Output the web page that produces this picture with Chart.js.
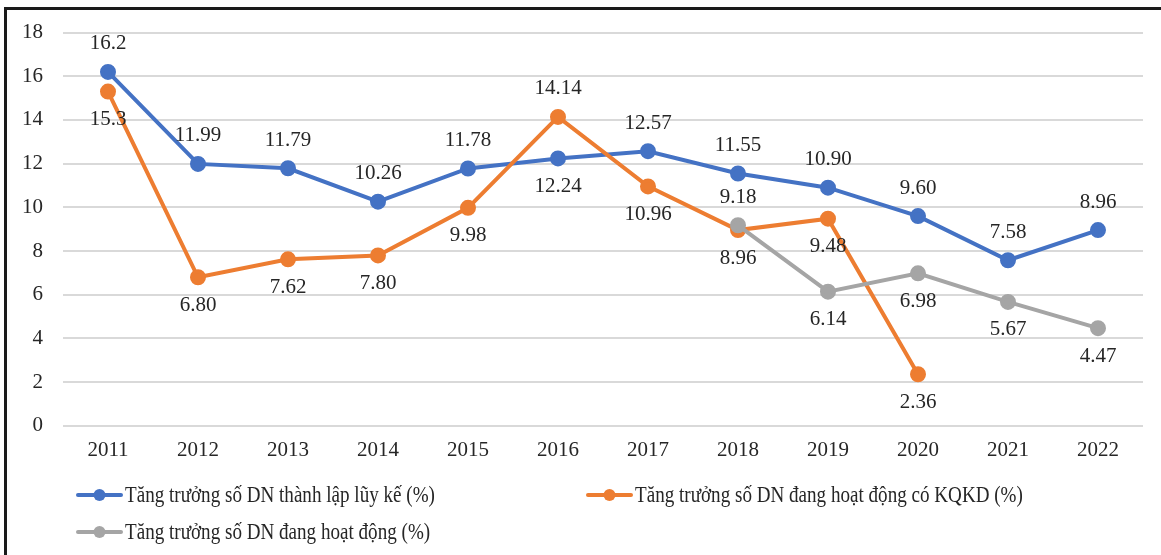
<!DOCTYPE html>
<html>
<head>
<meta charset="utf-8">
<script src="https://cdn.jsdelivr.net/npm/chart.js@4.4.1/dist/chart.umd.min.js"></script>
<style>
  html, body { margin: 0; padding: 0; background: #fff; }
  #wrap { position: relative; width: 1161px; height: 555px; overflow: hidden; }
  #frame { position: absolute; left: 4px; top: 7px; width: 1200px; height: 600px;
           border-left: 3px solid #1a1a1a; border-top: 3px solid #1a1a1a; }
  canvas { position: absolute; left: 0; top: 0; }
</style>
</head>
<body>
<div id="wrap">
  <div id="frame"></div>
  <canvas id="chart" width="1161" height="555"></canvas>
</div>
<script>
const years = ['2011', '2012', '2013', '2014', '2015', '2016', '2017', '2018', '2019', '2020', '2021', '2022'];
const thanhLap = [16.2, 11.99, 11.79, 10.26, 11.78, 12.24, 12.57, 11.55, 10.90, 9.60, 7.58, 8.96];
const coKqkd = [15.3, 6.80, 7.62, 7.80, 9.98, 14.14, 10.96, 8.96, 9.48, 2.36, null, null];
const hoatDong = [null, null, null, null, null, null, null, 9.18, 6.14, 6.98, 5.67, 4.47];
const yTicks = [0, 2, 4, 6, 8, 10, 12, 14, 16, 18];

// label text as printed (some keep 1 decimal, most keep 2)
const thanhLapText = ['16.2', '11.99', '11.79', '10.26', '11.78', '12.24', '12.57', '11.55', '10.90', '9.60', '7.58', '8.96'];
const coKqkdText = ['15.3', '6.80', '7.62', '7.80', '9.98', '14.14', '10.96', '8.96', '9.48', '2.36', '', ''];
const hoatDongText = ['', '', '', '', '', '', '', '9.18', '6.14', '6.98', '5.67', '4.47'];

// -1 = above the point, 1 = below
const thanhLapPos = [-1, -1, -1, -1, -1, 1, -1, -1, -1, -1, -1, -1];
const coKqkdPos = [1, 1, 1, 1, 1, -1, 1, 1, 1, 1, 1, 1];
const hoatDongPos = [1, 1, 1, 1, 1, 1, 1, -1, 1, 1, 1, 1];

const seriesNames = [
    'Tăng trưởng số DN thành lập lũy kế (%)',
    'Tăng trưởng số DN đang hoạt động có KQKD (%)',
    'Tăng trưởng số DN đang hoạt động (%)'
];
const colors = ['#4472C4', '#ED7D31', '#A5A5A5'];

const FONT = '"Liberation Serif", "DejaVu Serif", serif';

const valueLabels = {
    id: 'valueLabels',
    afterDatasetsDraw(chart) {
        const ctx = chart.ctx;
        const texts = [thanhLapText, coKqkdText, hoatDongText];
        const pos = [thanhLapPos, coKqkdPos, hoatDongPos];
        ctx.save();
        ctx.font = '21px ' + FONT;
        ctx.fillStyle = '#262626';
        ctx.textAlign = 'center';
        ctx.textBaseline = 'middle';
        chart.data.datasets.forEach((ds, di) => {
            const meta = chart.getDatasetMeta(di);
            meta.data.forEach((pt, i) => {
                const t = texts[di][i];
                if (!t || ds.data[i] === null) return;
                ctx.fillText(t, pt.x, pt.y + pos[di][i] * 28);
            });
        });
        ctx.restore();
    }
};

// legend text in the original is tall and narrow, so squeeze it a bit
const lineLegend = {
    id: 'lineLegend',
    afterDraw(chart) {
        const ctx = chart.ctx;
        const spots = [[78, 495], [588, 495], [78, 532]];
        ctx.save();
        ctx.textBaseline = 'middle';
        ctx.textAlign = 'left';
        seriesNames.forEach((name, i) => {
            const [x, y] = spots[i];
            ctx.strokeStyle = colors[i];
            ctx.lineWidth = 4;
            ctx.lineCap = 'round';
            ctx.beginPath();
            ctx.moveTo(x, y);
            ctx.lineTo(x + 43, y);
            ctx.stroke();
            ctx.fillStyle = colors[i];
            ctx.beginPath();
            ctx.arc(x + 21.5, y, 6, 0, Math.PI * 2);
            ctx.fill();
            ctx.save();
            ctx.translate(x + 47, y + 1);
            ctx.scale(0.83, 1);
            ctx.font = '23px ' + FONT;
            ctx.fillStyle = '#262626';
            ctx.fillText(name, 0, 0);
            ctx.restore();
        });
        ctx.restore();
    }
};

function makeSet(label, data, color, order) {
    return {
        label: label,
        data: data,
        order: order,
        borderColor: color,
        backgroundColor: color,
        pointBackgroundColor: color,
        pointBorderColor: color,
        borderWidth: 4,
        pointRadius: 6,
        pointHoverRadius: 6,
        tension: 0,
        spanGaps: false,
        fill: false
    };
}

new Chart(document.getElementById('chart').getContext('2d'), {
    type: 'line',
    data: {
        labels: years,
        datasets: [
            makeSet(seriesNames[0], thanhLap, colors[0], 3),
            makeSet(seriesNames[1], coKqkd, colors[1], 2),
            makeSet(seriesNames[2], hoatDong, colors[2], 1)
        ]
    },
    options: {
        responsive: false,
        animation: false,
        layout: { padding: { left: 2, right: 18, top: 28, bottom: 80 } },
        plugins: {
            legend: { display: false },
            tooltip: { enabled: false }
        },
        scales: {
            x: {
                offset: true,
                grid: { display: false, drawTicks: false },
                border: { display: false },
                ticks: { color: '#262626', font: { family: FONT, size: 21 }, padding: 12 }
            },
            y: {
                min: 0,
                max: 18,
                afterBuildTicks(axis) { axis.ticks = yTicks.map(v => ({ value: v })); },
                grid: { color: '#d9d9d9', lineWidth: 2, drawTicks: false },
                border: { display: false },
                ticks: { color: '#262626', font: { family: FONT, size: 21 }, padding: 20 }
            }
        }
    },
    plugins: [valueLabels, lineLegend]
});
</script>
</body>
</html>
